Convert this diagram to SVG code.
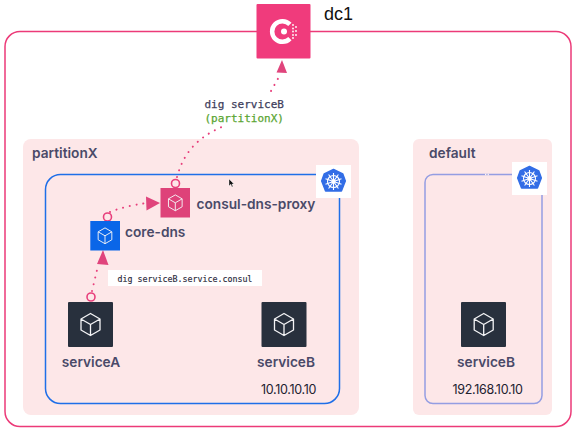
<svg xmlns="http://www.w3.org/2000/svg" width="576" height="432" viewBox="0 0 576 432">
<style>
.partition{fill:#fde7e8}
.lbl{font-family:Inter,"Liberation Sans",sans-serif;font-weight:600;font-size:13.700px;fill:#4a4a68}
.ip{font-family:Inter,"Liberation Sans",sans-serif;font-size:12.500px;fill:#222230;letter-spacing:-.3px}
.mono{font-family:"DejaVu Sans Mono",monospace;stroke-width:.25}
.dots{fill:none;stroke:#e8407c;stroke-width:2;stroke-linecap:round;stroke-dasharray:.1 6.800}
.ring{fill:none;stroke:#e8407c;stroke-width:1.600}
.head{fill:#e0447c}
.cube{fill:none;stroke:#f4f4f6;stroke-width:1.300;stroke-linejoin:round}
.spoke{fill:none;stroke:#fff;stroke-width:1.100}
</style>
<defs>
<g id="cube">
<path d="M0-11 9.500-5.500V5.500L0 11-9.500 5.500V-5.500Z M-9.500-5.500 0 0 9.500-5.500 M0 0V11"/>
</g>
<g id="k8s">
<rect x="-17.500" y="-16.500" width="35" height="33" fill="#fff"/>
<path d="M0-12 9.300-7.600 11.800-.4 7.900 9.600-7.900 9.600-11.800-.4-9.300-7.600Z" fill="#326de6" stroke="#326de6" stroke-width="1.500" stroke-linejoin="round"/>
<g class="spoke">
<circle r="6"/><circle r="1.600"/>
<path d="M0-8.500V8.500M-8-2.700 8 2.700M8-2.700-8 2.700M-4.900-7 4.900 7M4.900-7-4.900 7"/>
</g>
</g>
</defs>

<rect x="5" y="31.500" width="566" height="395" rx="15" fill="#fff" stroke="#ec3a78" stroke-width="1.500"/>

<g id="partitionX">
<rect class="partition" x="23" y="139" width="336" height="276" rx="8"/>
<text class="lbl" x="32" y="158">partitionX</text>
</g>
<g id="default">
<rect class="partition" x="413" y="139" width="139" height="276" rx="6"/>
<text class="lbl" x="429" y="158">default</text>
</g>

<g id="clusterX">
<rect x="45.500" y="174.500" width="294" height="229" rx="15" fill="none" stroke="#1f6fe8" stroke-width="1.500"/>
<use href="#k8s" x="333.500" y="181.500"/>
</g>
<g id="clusterDefault">
<rect x="425" y="174.500" width="117" height="229" rx="8" fill="none" stroke="#949de2" stroke-width="1.500"/>
<path d="M485 174.500h1.300M487.600 174.500h1.300" stroke="#fdf3f3" stroke-width="1.600" fill="none"/>
<use href="#k8s" x="529.500" y="178.500"/>
</g>

<g id="connectors">
<path class="dots" d="M92 291 98 266"/>
<path class="head" d="M103 250 108.500 265 97 264Z"/>
<path class="dots" d="M110 212C120 208 132 205 147 203"/>
<path class="head" d="M160 203 146 196.500 146.500 210.500Z"/>
<path class="dots" d="M177 177C183 155 195 138 224 126"/>
<path class="dots" d="M271 91 280 75"/>
<path class="head" d="M282 60 287 73 276.500 72.500Z"/>
<circle class="ring" cx="91" cy="297" r="4"/>
<circle class="ring" cx="107.500" cy="217" r="4"/>
<circle class="ring" cx="175.500" cy="183.500" r="4"/>
</g>

<g id="consul">
<rect x="256.500" y="4" width="54" height="54.500" rx="1" fill="#f03b7c"/>
<path d="M289.900 24.400A10.300 10.300 0 1 0 289.900 38.600" fill="none" stroke="#fff" stroke-width="4.500"/>
<circle cx="284" cy="31.500" r="3" fill="#fff"/>
<g fill="#fff"><circle cx="293" cy="25" r=".9"/><circle cx="296" cy="27" r=".9"/><circle cx="293" cy="28.500" r=".9"/><circle cx="296" cy="31" r=".9"/><circle cx="293" cy="31.500" r=".9"/><circle cx="293" cy="35" r=".9"/><circle cx="296" cy="35" r=".9"/><circle cx="293" cy="38" r=".9"/></g>
<text x="324" y="20" font-family="Liberation Sans,sans-serif" font-size="18" fill="#111">dc1</text>
</g>

<g id="digLabel">
<text class="mono" x="204.500" y="107.500" font-size="11" fill="#3e3e5c" stroke="#3e3e5c">dig serviceB</text>
<text class="mono" x="204.500" y="121.500" font-size="11" fill="#5aa532" stroke="#5aa532">(partitionX)</text>
</g>

<g id="consul-dns-proxy">
<rect x="160.500" y="188" width="29.500" height="29.500" fill="#de4279"/>
<use href="#cube" class="cube" transform="translate(175.300 202.800) scale(.72)"/>
<text class="lbl" x="196.500" y="209">consul-dns-proxy</text>
</g>
<g id="core-dns">
<rect x="90.300" y="221" width="29.700" height="29.500" fill="#0a66e8"/>
<use href="#cube" class="cube" transform="translate(105 235.800) scale(.72)"/>
<text class="lbl" x="125" y="237">core-dns</text>
</g>

<g id="queryLabel">
<rect x="108" y="270" width="154" height="16" fill="#fff"/>
<text class="mono" x="117.500" y="282" font-size="8.300" fill="#2b2b3c" stroke="#2b2b3c" style="stroke-width:.15">dig serviceB.service.consul</text>
</g>

<g id="serviceA">
<rect x="68" y="302" width="45" height="45" rx="1" fill="#28303d"/>
<use href="#cube" class="cube" transform="translate(90.500 324.500)"/>
<text class="lbl" x="91" y="367" text-anchor="middle">serviceA</text>
</g>
<g id="serviceB-partitionX">
<rect x="261.500" y="302" width="45" height="45" rx="1" fill="#28303d"/>
<use href="#cube" class="cube" transform="translate(284 324.500)"/>
<text class="lbl" x="286" y="367" text-anchor="middle">serviceB</text>
<text class="ip" x="288.500" y="393.500" text-anchor="middle">10.10.10.10</text>
</g>
<g id="serviceB-default">
<rect x="461" y="302" width="45" height="45" rx="1" fill="#28303d"/>
<use href="#cube" class="cube" transform="translate(483.700 324.500)"/>
<text class="lbl" x="486" y="367" text-anchor="middle">serviceB</text>
<text class="ip" x="487.500" y="394" text-anchor="middle">192.168.10.10</text>
</g>

<path d="M229 179V186L230.700 184.300 232 187 233 186.500 231.900 184H234Z" fill="#111" stroke="#fff" stroke-width=".4"/>
</svg>
